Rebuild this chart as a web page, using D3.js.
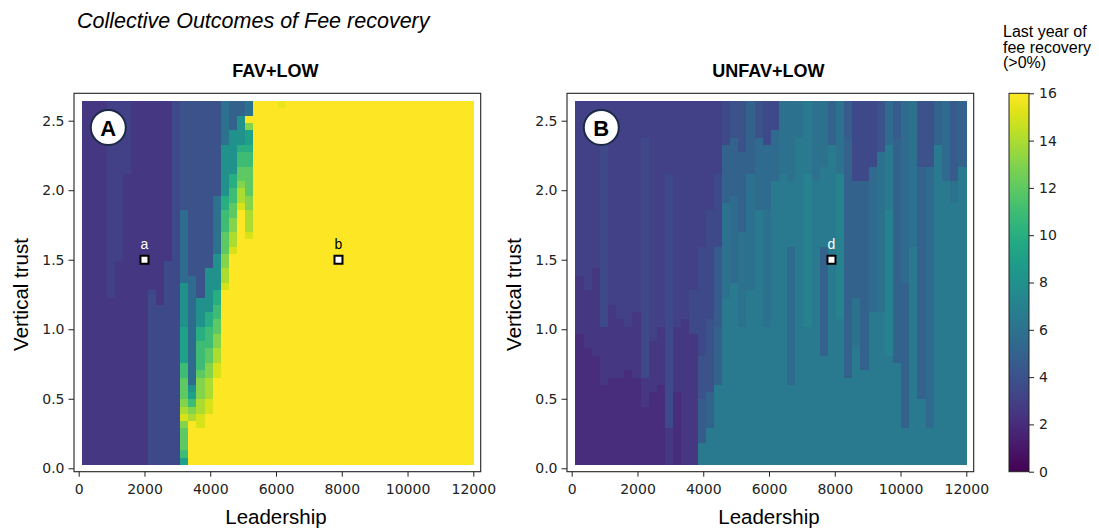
<!DOCTYPE html>
<html>
<head>
<meta charset="utf-8">
<script src="https://cdn.jsdelivr.net/npm/d3@7/dist/d3.min.js"></script>
<style>
  body { margin: 0; background: #fff; }
  svg { display: block; }
</style>
</head>
<body>
<div id="graf"></div>
<script>
// I. Datos
// una cadena por columna de Leadership (izq -> der), filas de arriba (trust alto) a abajo
// cada caracter = base 36 en medios anos: valor = parseInt(c, 36) / 2   ('w' = 16)
leadMin = 113
leadMax = 12000
trustMin = 0.025
trustMax = 2.64

favCols = [
  "55555 55555 55555 55555 55555 55555 55555 55555 55555 55555",
  "55555 55555 55555 55555 55555 55555 55555 55555 55555 55555",
  "55555 55555 55555 55555 55555 55555 55555 55555 55555 55555",
  "66666 66666 66666 66666 66666 66555 55555 55555 55555 55555",
  "66666 66666 66666 66666 66555 55555 55555 55555 55555 55555",
  "66666 66666 55555 55555 55555 55555 55555 55555 55555 55555",
  "55555 55555 55555 55555 55555 55555 55555 55555 55555 55555",
  "55555 55555 55555 55555 55555 55555 55555 55555 55555 55555",
  "55555 55555 55555 55555 55555 57777 77777 77777 77777 77777",
  "55555 55555 55555 55555 55555 55577 77777 77777 77777 77777",
  "55555 55555 55555 55555 55777 77777 77777 77777 77777 77777",
  "77777 77777 77777 77777 77777 77777 77777 77777 77777 77777",
  "88888 88888 88888 bbbbb bbbbb ggggg giiii immoo oqsuq ooomi",
  "88888 88888 88888 88888 8888b bbbbb bbbbb bbbbg imqsw wwwww",
  "88888 88888 88888 88888 88888 88ggg gkkmm mmoqq qssuu wwwww",
  "88888 88888 88888 88888 888gg ggggk kmmmo oqqss suuww wwwww",
  "88888 88888 888cc ccccc cgggg gkkmm ooqqs suuww wwwww wwwww",
  "ccccc cgggg gggkk mmmoo oqqss uwwww wwwww wwwww wwwww wwwww",
  "aaaag ggggg kkmmo oqqss uwwww wwwww wwwww wwwww wwwww wwwww",
  "aaggg gkmmo oqssu wwwww wwwww wwwww wwwww wwwww wwwww wwwww",
  "ccwqi ikmmo oooqq sssuw wwwww wwwww wwwww wwwww wwwww wwwww",
  "wwwww wwwww wwwww wwwww wwwww wwwww wwwww wwwww wwwww wwwww",
  "wwwww wwwww wwwww wwwww wwwww wwwww wwwww wwwww wwwww wwwww",
  "wwwww wwwww wwwww wwwww wwwww wwwww wwwww wwwww wwwww wwwww",
  "vwwww wwwww wwwww wwwww wwwww wwwww wwwww wwwww wwwww wwwww",
  "wwwww wwwww wwwww wwwww wwwww wwwww wwwww wwwww wwwww wwwww",
  "wwwww wwwww wwwww wwwww wwwww wwwww wwwww wwwww wwwww wwwww",
  "wwwww wwwww wwwww wwwww wwwww wwwww wwwww wwwww wwwww wwwww",
  "wwwww wwwww wwwww wwwww wwwww wwwww wwwww wwwww wwwww wwwww",
  "wwwww wwwww wwwww wwwww wwwww wwwww wwwww wwwww wwwww wwwww",
  "wwwww wwwww wwwww wwwww wwwww wwwww wwwww wwwww wwwww wwwww",
  "wwwww wwwww wwwww wwwww wwwww wwwww wwwww wwwww wwwww wwwww",
  "wwwww wwwww wwwww wwwww wwwww wwwww wwwww wwwww wwwww wwwww",
  "wwwww wwwww wwwww wwwww wwwww wwwww wwwww wwwww wwwww wwwww",
  "wwwww wwwww wwwww wwwww wwwww wwwww wwwww wwwww wwwww wwwww",
  "wwwww wwwww wwwww wwwww wwwww wwwww wwwww wwwww wwwww wwwww",
  "wwwww wwwww wwwww wwwww wwwww wwwww wwwww wwwww wwwww wwwww",
  "wwwww wwwww wwwww wwwww wwwww wwwww wwwww wwwww wwwww wwwww",
  "wwwww wwwww wwwww wwwww wwwww wwwww wwwww wwwww wwwww wwwww",
  "wwwww wwwww wwwww wwwww wwwww wwwww wwwww wwwww wwwww wwwww",
  "wwwww wwwww wwwww wwwww wwwww wwwww wwwww wwwww wwwww wwwww",
  "wwwww wwwww wwwww wwwww wwwww wwwww wwwww wwwww wwwww wwwww",
  "wwwww wwwww wwwww wwwww wwwww wwwww wwwww wwwww wwwww wwwww",
  "wwwww wwwww wwwww wwwww wwwww wwwww wwwww wwwww wwwww wwwww",
  "wwwww wwwww wwwww wwwww wwwww wwwww wwwww wwwww wwwww wwwww",
  "wwwww wwwww wwwww wwwww wwwww wwwww wwwww wwwww wwwww wwwww",
  "wwwww wwwww wwwww wwwww wwwww wwwww wwwww wwwww wwwww wwwww",
  "wwwww wwwww wwwww wwwww wwwww wwwww wwwww wwwww wwwww wwwww"
]

unfavCols = [
  "66666 66666 66666 66666 66665 55555 55444 44444 44444 44444",
  "66666 66666 66666 66666 66666 65555 55554 44444 44444 44444",
  "66666 66666 66666 66666 66655 55555 55555 44444 44444 44444",
  "66666 67777 77777 77777 77777 77777 75555 55554 44444 44444",
  "66666 66666 66666 66666 66666 66655 55555 55544 44444 44444",
  "66666 66666 66666 66666 66666 66666 55555 55544 44444 44444",
  "66666 66666 66666 66666 66666 66666 65555 55444 44444 44444",
  "66666 66666 66666 66666 66666 66665 55555 55544 44444 44444",
  "66666 77777 77777 77777 77777 77777 77777 77755 55444 44444",
  "66666 66666 66666 66666 66666 66666 66655 55555 44444 44444",
  "66666 66666 66666 66666 66666 66666 65555 55554 44444 44444",
  "66666 66666 77777 77777 77777 77777 77777 77777 77777 55555",
  "66666 66666 66666 66666 66666 66666 65555 55555 44444 44444",
  "66666 66666 66666 66666 66666 66666 55555 55555 55555 55555",
  "66666 66666 66666 66666 66666 67777 77555 55555 55555 55555",
  "66666 66666 66666 66666 77777 77777 77777 88888 89999 99ddd",
  "66666 66666 66666 77777 77777 77777 88888 88888 aaaaa ddddd",
  "66666 66666 77777 77777 99999 99999 9aaaa aaaad ddddd ddddd",
  "77777 7aaaa aaaac ccccc ccccc ccddd ddddd ddddd ddddd ddddd",
  "88888 aaaaa aaabb bbbbb bbbbb ddddd ddddd ddddd ddddd ddddd",
  "88888 88aaa aaaaa aaacc ccccc ccccc cdddd ddddd ddddd ddddd",
  "aaaaa aaaaa ccccc ccccc ccccc cdddd ddddd ddddd ddddd ddddd",
  "88888 bbbbb bbbbb ddddd ddddd ddddd ddddd ddddd ddddd ddddd",
  "77777 7bbbb bbbbb ccccc ccccc ccccc cdddd ddddd ddddd ddddd",
  "7777b bbbbb bdddd ddddd ddddd ddddd ddddd ddddd ddddd ddddd",
  "ccccc ccccc ddddd ddddd ddddd ddddd ddddd ddddd ddddd ddddd",
  "ccccc ccccc cdddd ddddd bbbbb bbbbb bbbbb bbbbd ddddd ddddd",
  "ccccc ddddd ddddd ddddd ddddd ddddd ddddd ddddd ddddd ddddd",
  "ddddd ddddd eeeee eeeee eeeee eeeee edddd ddddd ddddd ddddd",
  "ccccc ccccc cdddd ddddd ddddd ddddd ddddd ddddd ddddd ddddd",
  "ccccc ccccd ddddd ddddd aaaaa aaaaa aaaaa ddddd ddddd ddddd",
  "aaaaa adddd ddddd ddddd ddddd ddddd ddddd ddddd ddddd ddddd",
  "ccccc ccccc eeeee eeeee eeeee eeeee ddddd ddddd ddddd ddddd",
  "99999 aaaaa aaaaa aaaaa aaaaa aaaaa aaaaa aaadd ddddd ddddd",
  "77777 77777 7aaaa aaaaa aaaaa aaccc ccccd ddddd ddddd ddddd",
  "77777 77777 7aaaa aaaaa aaaaa aaaaa aaaaa aaddd ddddd ddddd",
  "77777 7777b bbbbb bbbbb bbbbb bbbbd ddddd ddddd ddddd ddddd",
  "88888 88ccc ccccc ccccc ccccc ccccd ddddd ddddd ddddd ddddd",
  "bbbbb bdddd ddddd eeeee eeeee eeeee eeeee ddddd ddddd ddddd",
  "99999 aaaaa aaaaa aaaaa aaaaa aaaaa aaaaa adddd ddddd ddddd",
  "bbbbb bbbbb bbbbb bbbbb bbbbb aaaaa aaaaa aaaaa aaaaa ddddd",
  "ccccc ccccc ccccc ccccc ddddd ddddd ddddd ddddd ddddd ddddd",
  "88888 8888a aaaaa aaaaa aaaaa aaaaa aaaaa aaaaa adddd ddddd",
  "88888 8888b bbbbb bbbbb bbbbb bbbbb bbbbb bbbbb bbbbb ddddd",
  "aaaaa adddd ddddd ddddd ddddd ddddd ddddd ddddd ddddd ddddd",
  "bbbbb bbbbb bdddd ddddd ddddd ddddd ddddd ddddd ddddd ddddd",
  "99999 99999 9cccd ddddd ddddd ddddd ddddd ddddd ddddd ddddd",
  "aaaaa aaaad ddddd ddddd ddddd ddddd ddddd ddddd ddddd ddddd"
]

xTicks = [0, 2000, 4000, 6000, 8000, 10000, 12000]
yTicks = [0.0, 0.5, 1.0, 1.5, 2.0, 2.5]
cbTicks = [0, 2, 4, 6, 8, 10, 12, 14, 16]

favMarks = [{ name: 'a', lead: 2000, trust: 1.5, txt: '#fff' },
            { name: 'b', lead: 7900, trust: 1.5, txt: '#000' }]
unfavMarks = [{ name: 'd', lead: 7900, trust: 1.5, txt: '#fff' }]

titulo = 'Collective Outcomes of Fee recovery'
cbTitulo = ['Last year of', 'fee recovery', '(>0%)']

// II. Configuracion
ancho_total = 1099
alto_total = 531
fuente = 'Liberation Sans, Arial, Helvetica, sans-serif'
fuenteTicks = 'DejaVu Sans, sans-serif'

svg = d3.select('#graf').append('svg')
        .attr('width', ancho_total)
        .attr('height', alto_total)

color = d3.scaleSequential(d3.interpolateViridis).domain([0, 16])

marcoTop = 93.3
marcoBottom = 471.7
marcoAncho = 406.7

y = d3.scaleLinear().domain([-0.0245, 2.697]).range([marcoBottom, marcoTop])

svg.append('text')
        .attr('x', 77).attr('y', 28)
        .attr('font-family', fuente).attr('font-size', 21.5)
        .attr('font-style', 'italic')
        .text(titulo)

// III. Paneles
function panel(izq, cols, nombre, letra, marcas) {
        x = d3.scaleLinear().domain([-143, 12225]).range([izq, izq + marcoAncho])
        g = svg.append('g')

        g.append('rect')
                .attr('x', izq).attr('y', marcoTop)
                .attr('width', marcoAncho).attr('height', marcoBottom - marcoTop)
                .attr('fill', '#fff')

        celdas = []
        anchoCelda = (leadMax - leadMin) / cols.length
        cols.forEach((s, i) => {
                s = s.replace(/ /g, '')
                altoCelda = (trustMax - trustMin) / s.length
                s.split('').forEach((c, j) => {
                        celdas.push({
                                l0: leadMin + i * anchoCelda,
                                l1: leadMin + (i + 1) * anchoCelda,
                                t1: trustMax - j * altoCelda,
                                t0: trustMax - (j + 1) * altoCelda,
                                v: parseInt(c, 36) / 2
                        })
                })
        })

        g.append('g')
                .attr('shape-rendering', 'crispEdges')
                .selectAll('rect')
                .data(celdas)
                .join('rect')
                .attr('x', d => x(d.l0))
                .attr('y', d => y(d.t1))
                .attr('width', d => x(d.l1) - x(d.l0) + 0.6)
                .attr('height', d => y(d.t0) - y(d.t1) + 0.6)
                .attr('fill', d => color(d.v))

        // marco
        g.append('rect')
                .attr('x', izq).attr('y', marcoTop)
                .attr('width', marcoAncho).attr('height', marcoBottom - marcoTop)
                .attr('fill', 'none').attr('stroke', '#222').attr('stroke-width', 1.1)

        // ejes
        ejeX = g.append('g')
                .attr('transform', `translate(0, ${marcoBottom})`)
                .call(d3.axisBottom(x).tickValues(xTicks).tickFormat(d3.format('d')).tickSize(5).tickPadding(7))
        ejeY = g.append('g')
                .attr('transform', `translate(${izq}, 0)`)
                .call(d3.axisLeft(y).tickValues(yTicks).tickFormat(d3.format('.1f')).tickSize(5.5).tickPadding(4))
        ;[ejeX, ejeY].forEach(e => {
                e.select('.domain').remove()
                e.selectAll('line').attr('stroke', '#222')
                e.selectAll('text').attr('font-family', fuenteTicks).attr('font-size', 14).attr('fill', '#222')
        })

        g.append('text')
                .attr('x', x(6000)).attr('y', 524)
                .attr('text-anchor', 'middle')
                .attr('font-family', fuente).attr('font-size', 20.5)
                .text('Leadership')
        g.append('text')
                .attr('transform', `translate(${izq - 46}, ${y(1.25)}) rotate(-90)`)
                .attr('text-anchor', 'middle')
                .attr('font-family', fuente).attr('font-size', 20.5)
                .text('Vertical trust')
        g.append('text')
                .attr('x', izq + marcoAncho / 2 - 2).attr('y', 77)
                .attr('text-anchor', 'middle')
                .attr('font-family', fuente).attr('font-size', 18).attr('font-weight', 'bold')
                .text(nombre)

        // circulo con letra
        g.append('circle')
                .attr('cx', izq + 34.3).attr('cy', 127.5).attr('r', 17.5)
                .attr('fill', '#fff').attr('stroke', '#1b2a47').attr('stroke-width', 2)
        g.append('text')
                .attr('x', izq + 34.3).attr('y', 135.5)
                .attr('text-anchor', 'middle')
                .attr('font-family', fuente).attr('font-size', 22).attr('font-weight', 'bold')
                .text(letra)

        // puntos marcados
        marcas.forEach(m => {
                g.append('rect')
                        .attr('x', x(m.lead) - 4).attr('y', y(m.trust) - 4)
                        .attr('width', 8).attr('height', 8)
                        .attr('fill', '#fff').attr('stroke', '#000').attr('stroke-width', 2)
                g.append('text')
                        .attr('x', x(m.lead)).attr('y', y(m.trust) - 11)
                        .attr('text-anchor', 'middle')
                        .attr('font-family', fuente).attr('font-size', 14)
                        .attr('fill', m.txt)
                        .text(m.name)
        })
}

panel(74, favCols, 'FAV+LOW', 'A', favMarks)
panel(567, unfavCols, 'UNFAV+LOW', 'B', unfavMarks)

// IV. Barra de color
cbX = 1009
cbAncho = 20
cb = d3.scaleLinear().domain([0, 16]).range([marcoBottom, marcoTop])

grad = svg.append('defs').append('linearGradient')
        .attr('id', 'viridis')
        .attr('x1', 0).attr('y1', 1).attr('x2', 0).attr('y2', 0)
d3.range(0, 1.0001, 0.05).forEach(t => {
        grad.append('stop').attr('offset', t).attr('stop-color', d3.interpolateViridis(t))
})

svg.append('rect')
        .attr('x', cbX).attr('y', cb(16))
        .attr('width', cbAncho).attr('height', cb(0) - cb(16))
        .attr('fill', 'url(#viridis)')
        .attr('stroke', '#222').attr('stroke-width', 1)

ejeCb = svg.append('g')
        .attr('transform', `translate(${cbX + cbAncho}, 0)`)
        .call(d3.axisRight(cb).tickValues(cbTicks).tickSize(5).tickPadding(5))
ejeCb.select('.domain').remove()
ejeCb.selectAll('line').attr('stroke', '#222')
ejeCb.selectAll('text').attr('font-family', fuenteTicks).attr('font-size', 14).attr('fill', '#222')

svg.append('g').selectAll('text')
        .data(cbTitulo)
        .join('text')
        .attr('x', 1003)
        .attr('y', (d, i) => 37 + i * 15.5)
        .attr('font-family', fuente).attr('font-size', 16)
        .text(d => d)
</script>
</body>
</html>
